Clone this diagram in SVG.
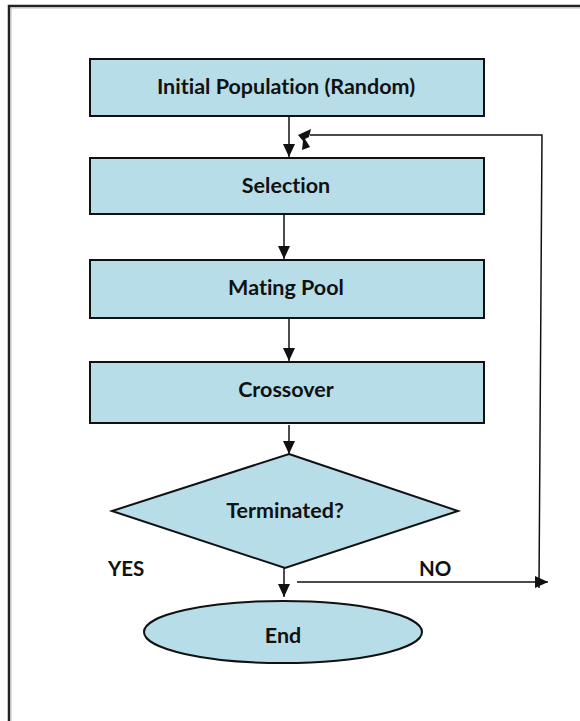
<svg xmlns="http://www.w3.org/2000/svg" width="580" height="721" viewBox="0 0 580 721">
  <style>
    .box { fill: #b7dde8; stroke: #111; stroke-width: 2; }
    .lbl { font-family: Lato, "Open Sans", sans-serif; font-weight: bold; font-size: 21.5px; fill: #111; text-anchor: middle; font-variant-ligatures: none; }
    .side { font-family: Lato, "Open Sans", sans-serif; font-weight: bold; font-size: 20.5px; fill: #111; }
    .wire { fill: none; stroke: #111; stroke-width: 1.5; }
    .frame { fill: none; stroke: #222; stroke-width: 2.5; }
  </style>
  <defs>
    <marker id="arrowDown" markerWidth="12" markerHeight="14" refX="13" refY="6" orient="auto" markerUnits="userSpaceOnUse">
      <path d="M0,0 L13,6 L0,12 Z" fill="#111"/>
    </marker>
  </defs>

  <rect width="580" height="721" fill="#ffffff"/>
  <!-- page frame -->
  <path class="frame" d="M9,721 L9,6 L580,6"/>
  <path d="M11,721 L11,8 L580,8" fill="none" stroke="#bbb" stroke-width="1"/>

  <g id="connectors">
    <line class="wire" x1="289" y1="116" x2="289" y2="157" marker-end="url(#arrowDown)"/>
    <line class="wire" x1="284" y1="214" x2="284" y2="259" marker-end="url(#arrowDown)"/>
    <line class="wire" x1="289" y1="318" x2="289" y2="361" marker-end="url(#arrowDown)"/>
    <line class="wire" x1="289" y1="425" x2="289" y2="454" marker-end="url(#arrowDown)"/>
    <line class="wire" x1="284" y1="568" x2="284" y2="597" marker-end="url(#arrowDown)"/>
    <line class="wire" x1="297" y1="582" x2="548" y2="582" marker-end="url(#arrowDown)"/>
    <polyline class="wire" points="539,588 542,135 310,135"/>
    <polygon points="298,135 311,129 309,137 305,139 310,147 302,150 303,141" fill="#111"/>
  </g>

  <g id="initial">
    <rect class="box" x="90" y="59" width="394" height="57"/>
    <text class="lbl" x="286" y="94">Initial Population (Random)</text>
  </g>
  <g id="selection">
    <rect class="box" x="90" y="158" width="394" height="56"/>
    <text class="lbl" x="286" y="193">Selection</text>
  </g>
  <g id="mating">
    <rect class="box" x="90" y="260" width="394" height="58"/>
    <text class="lbl" x="286" y="295">Mating Pool</text>
  </g>
  <g id="crossover">
    <rect class="box" x="90" y="362" width="394" height="61"/>
    <text class="lbl" x="286" y="397">Crossover</text>
  </g>
  <g id="terminated">
    <polygon class="box" points="289,454 458,511 285,568 112,511"/>
    <text class="lbl" x="285" y="518">Terminated?</text>
  </g>
  <g id="end">
    <ellipse class="box" cx="283" cy="632" rx="139" ry="31"/>
    <text class="lbl" x="283" y="643">End</text>
  </g>

  <text class="side" x="108" y="576">YES</text>
  <text class="side" x="419" y="576">NO</text>
</svg>
